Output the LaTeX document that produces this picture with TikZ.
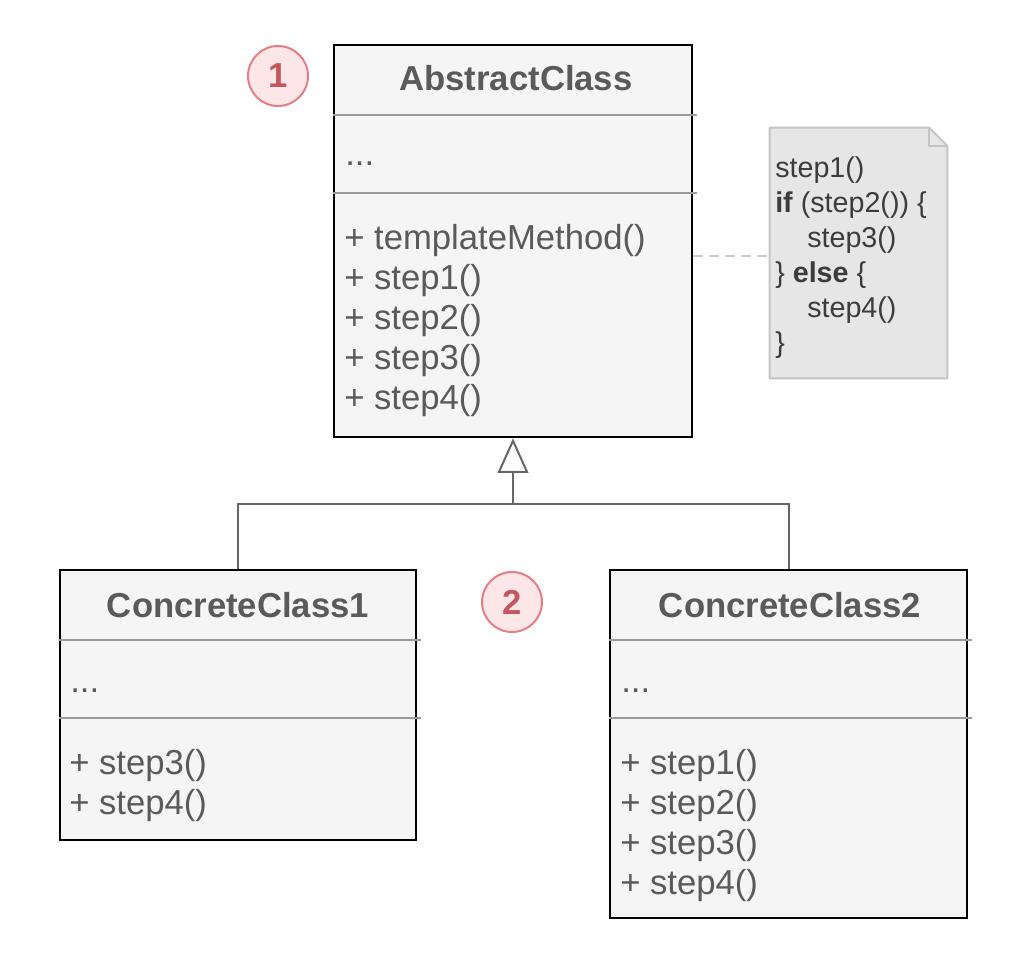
\documentclass[tikz,border=0pt]{standalone}
\usepackage{fontspec}
\setmainfont{Liberation Sans}
\usetikzlibrary{arrows.meta,calc}
\definecolor{boxfill}{HTML}{F5F5F5}
\definecolor{sepgray}{HTML}{9A9A9A}
\definecolor{txtgray}{HTML}{5A5A5A}
\definecolor{linegray}{HTML}{666666}
\definecolor{notefill}{HTML}{E6E6E6}
\definecolor{notedraw}{HTML}{C4C4C4}
\definecolor{notegray}{HTML}{3C3C3C}
\definecolor{numdraw}{HTML}{E57F85}
\definecolor{numfill}{HTML}{FDE6E7}
\definecolor{numtext}{HTML}{C4575E}

\begin{document}
\begin{tikzpicture}[x=0.75pt,y=-0.75pt,
    box/.style={draw=black,line width=1.9pt,fill=boxfill,inner sep=0pt},
    sep/.style={draw=sepgray,line width=1.5pt},
    title/.style={font=\bfseries\fontsize{26}{30}\selectfont,text=txtgray},
    member/.style={font=\fontsize{26}{30}\selectfont,text=txtgray,anchor=west,inner sep=0pt},
    notebox/.style={draw=notedraw,line width=1.5pt,fill=notefill,line join=round},
    notetext/.style={font=\fontsize{21.5}{26}\selectfont,text=notegray,anchor=west,inner sep=0pt},
    num/.style={circle,draw=numdraw,fill=numfill,line width=1.5pt,minimum size=45pt,inner sep=0pt,
      font=\bfseries\fontsize{26}{30}\selectfont,text=numtext}]
          %\draw[help lines] (0,0) grid[step=100] (1024,970);
          \useasboundingbox (0,0) rectangle (1024,970);

          % classes
          \node[box,minimum width=358*0.75pt,minimum height=392*0.75pt] (abs) at (513,241) {};
          \node[box,minimum width=356*0.75pt,minimum height=270*0.75pt] (cc1) at (238,705) {};
          \node[box,minimum width=357*0.75pt,minimum height=348*0.75pt] (cc2) at (788.5,744) {};

          \draw[sep] (abs.west |- 0,115) -- (697,115);
          \draw[sep] (abs.west |- 0,193) -- (697,193);
          \draw[sep] (cc1.west |- 0,640) -- (421,640);
          \draw[sep] (cc1.west |- 0,718) -- (421,718);
          \draw[sep] (cc2.west |- 0,640) -- (972,640);
          \draw[sep] (cc2.west |- 0,718) -- (972,718);

          \node[title] (absT) at (516,78) {AbstractClass};
          \node[title] (cc1T) at (238,605) {ConcreteClass1};
          \node[title] (cc2T) at (790,605) {ConcreteClass2};

          \node[member] (absF) at (345,164) {...};
          \node[member] (cc1F) at (70,691) {...};
          \node[member] (cc2F) at (621,691) {...};

          \foreach \m [count=\i] in {+ templateMethod(),+ step1(),+ step2(),+ step3(),+ step4()}
            \node[member] (absM\i) at (344,{201+40*\i}) {\m};
          \foreach \m [count=\i] in {+ step3(),+ step4()}
            \node[member] (cc1M\i) at (69,{726+40*\i}) {\m};
          \foreach \m [count=\i] in {+ step1(),+ step2(),+ step3(),+ step4()}
            \node[member] (cc2M\i) at (620,{726+40*\i}) {\m};

          % inheritance
          \coordinate (J) at (abs.south |- 0,504);
          \draw[draw=linegray,line width=1.5pt] (cc1.north) |- (J) -| (cc2.north);
          \draw[draw=linegray,line width=1.5pt,-{Triangle[open,length=26pt,width=23pt]}] (J) -- (abs.south);

          % note
          \node[minimum width=177*0.75pt,minimum height=250*0.75pt,inner sep=0pt] (note) at (858.5,253) {};
          \draw[notebox] (note.north west) -- ($(note.north east)+(-18,0)$) coordinate (F1)
                -- ($(note.north east)+(0,18)$) coordinate (F2) -- (note.south east) -- (note.south west) -- cycle;
          \draw[notebox,fill=none] (F1) |- (F2);
          \draw[draw=notedraw!80,line width=1.5pt,dash pattern=on 7pt off 5pt] (abs.east |- 0,256) -- (note.west |- 0,256);

          \node[notetext] (n1) at (775,170) {step1()};
          \node[notetext] (n2) at (775,205) {\textbf{if} (step2()) \{};
          \node[notetext] (n3) at (807,240) {step3()};
          \node[notetext] (n4) at (775,275) {\} \textbf{else} \{};
          \node[notetext] (n5) at (807,310) {step4()};
          \node[notetext] (n6) at (775,345) {\}};

          % steps
          \node[num] (s1) at (278,76) {1};
          \node[num] (s2) at (512,602) {2};
\end{tikzpicture}
\end{document}
